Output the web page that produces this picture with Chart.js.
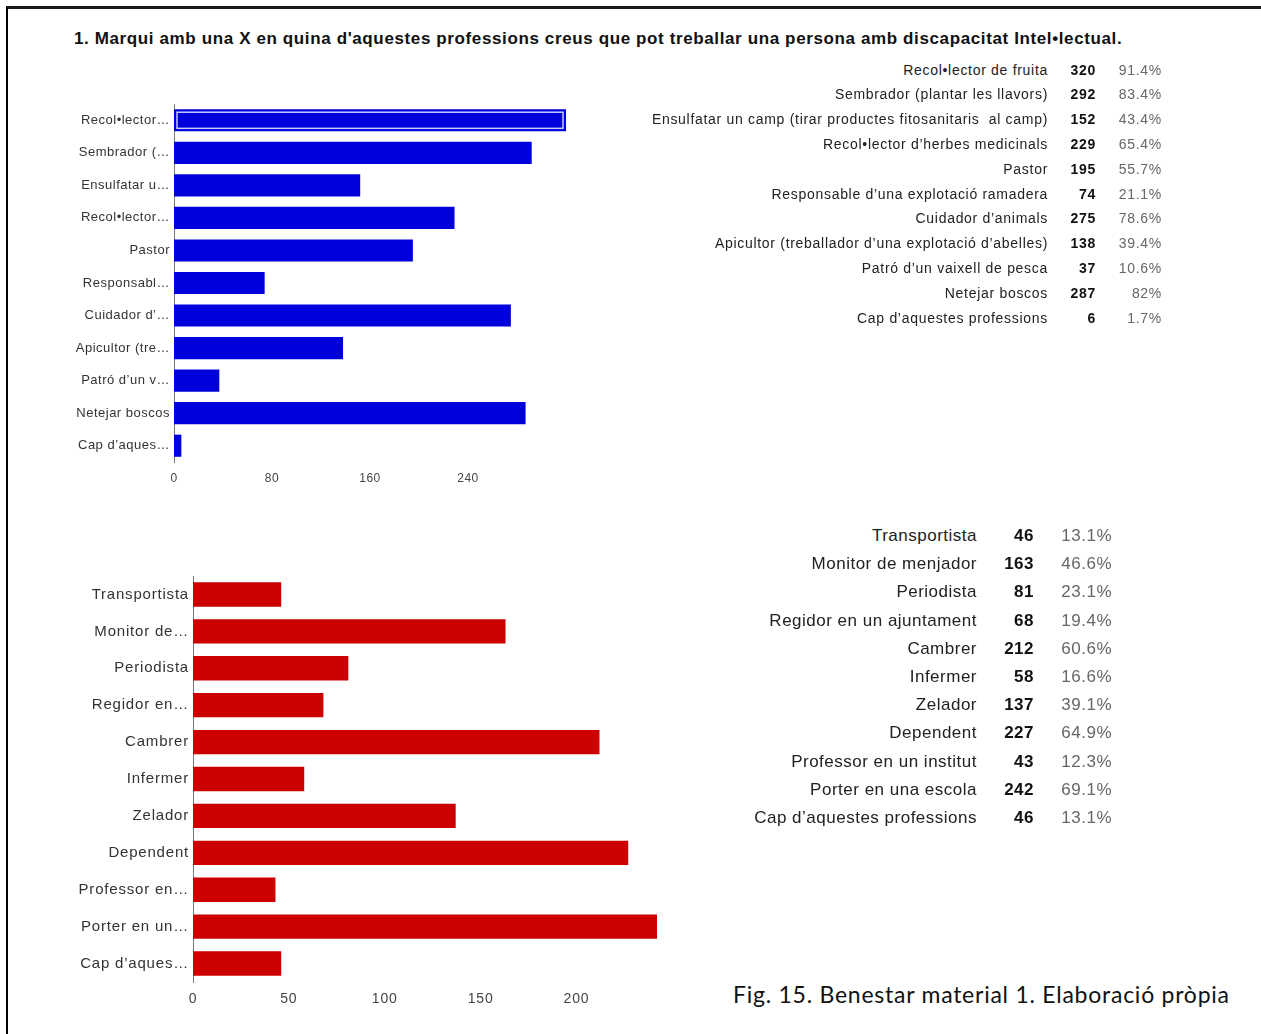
<!DOCTYPE html>
<html>
<head>
<meta charset="utf-8">
<script src="https://cdn.jsdelivr.net/npm/chart.js@4.4.1/dist/chart.umd.min.js"></script>
<style>
  body {
    margin: 0;
    background: #fff;
    width: 1261px;
    height: 1034px;
    position: relative;
    overflow: hidden;
    font-family: Arial, "Liberation Sans", sans-serif;
  }
  .frame {
    position: absolute;
    left: 6px;
    top: 6px;
    right: -10px;
    bottom: -10px;
    border-top: 3px solid #1a1a1a;
    border-left: 2px solid #000;
  }
  .title {
    position: absolute;
    left: 74px;
    top: 29px;
    font-weight: bold;
    font-size: 17px;
    letter-spacing: 0.62px;
    color: #111;
    white-space: nowrap;
  }
  canvas { position: absolute; }
  .cell {
    position: absolute;
    left: 0;
    text-align: right;
    white-space: pre;
  }
  .cell.val { font-weight: bold; color: #111; }
  .cell.pct { color: #666; }
  .caption {
    position: absolute;
    left: 733px;
    top: 980px;
    font-family: Lato, "Open Sans", sans-serif;
    font-size: 23px;
    letter-spacing: 0.75px;
    color: #111;
    white-space: nowrap;
  }
</style>
</head>
<body>
<div class="frame"></div>
<div class="title">1. Marqui amb una X en quina d'aquestes professions creus que pot treballar una persona amb discapacitat Intel•lectual.</div>

<canvas id="topChart" width="506" height="388" style="left:60px; top:104px; width:506px; height:388px;"></canvas>
<canvas id="bottomChart" width="597" height="436" style="left:60px; top:576px; width:597px; height:436px;"></canvas>
<div id="tables"></div>

<div class="caption">Fig. 15. Benestar material 1. Elaboració pròpia</div>

<script>
// Rural professions
const topCategories = [
    'Recol•lector de fruita',
    'Sembrador (plantar les llavors)',
    'Ensulfatar un camp (tirar productes fitosanitaris  al camp)',
    'Recol•lector d’herbes medicinals',
    'Pastor',
    'Responsable d’una explotació ramadera',
    'Cuidador d’animals',
    'Apicultor (treballador d’una explotació d’abelles)',
    'Patró d’un vaixell de pesca',
    'Netejar boscos',
    'Cap d’aquestes professions'
];
const topAxisLabels = [
    'Recol•lector…', 'Sembrador (…', 'Ensulfatar u…', 'Recol•lector…', 'Pastor',
    'Responsabl…', 'Cuidador d’…', 'Apicultor (tre…', 'Patró d’un v…', 'Netejar boscos', 'Cap d’aques…'
];
const topCounts = [320, 292, 152, 229, 195, 74, 275, 138, 37, 287, 6];
const topPercents = ['91.4%', '83.4%', '43.4%', '65.4%', '55.7%', '21.1%', '78.6%', '39.4%', '10.6%', '82%', '1.7%'];
const topTicks = [0, 80, 160, 240];

// Urban professions
const bottomCategories = [
    'Transportista',
    'Monitor de menjador',
    'Periodista',
    'Regidor en un ajuntament',
    'Cambrer',
    'Infermer',
    'Zelador',
    'Dependent',
    'Professor en un institut',
    'Porter en una escola',
    'Cap d’aquestes professions'
];
const bottomAxisLabels = [
    'Transportista', 'Monitor de…', 'Periodista', 'Regidor en…', 'Cambrer', 'Infermer',
    'Zelador', 'Dependent', 'Professor en…', 'Porter en un…', 'Cap d’aques…'
];
const bottomCounts = [46, 163, 81, 68, 212, 58, 137, 227, 43, 242, 46];
const bottomPercents = ['13.1%', '46.6%', '23.1%', '19.4%', '60.6%', '16.6%', '39.1%', '64.9%', '12.3%', '69.1%', '13.1%'];
const bottomTicks = [0, 50, 100, 150, 200];

// Light inner outline on the selected bar
const selectedBarOutline = {
    id: 'selectedBarOutline',
    afterDatasetsDraw(chart, args, opts) {
        if (opts.index == null) return;
        const bar = chart.getDatasetMeta(0).data[opts.index];
        if (!bar) return;
        const { x, y, base, height } = bar.getProps(['x', 'y', 'base', 'height'], true);
        const ctx = chart.ctx;
        ctx.save();
        ctx.strokeStyle = opts.color;
        ctx.lineWidth = 1.5;
        ctx.strokeRect(base + 3, y - height / 2 + 3, x - base - 6, height - 6);
        ctx.restore();
    }
};

// Wider tracking for the axis labels
const letterSpacing = {
    id: 'letterSpacing',
    beforeDraw(chart, args, opts) {
        chart.ctx.letterSpacing = (opts.value || 0) + 'px';
    }
};

function makeBarChart(id, labels, values, color, cfg) {
    const canvas = document.getElementById(id);
    return new Chart(canvas.getContext('2d'), {
        type: 'bar',
        data: {
            labels: labels,
            datasets: [{
                data: values,
                backgroundColor: color,
                borderWidth: 0,
                categoryPercentage: 1,
                barPercentage: cfg.barPercentage
            }]
        },
        plugins: [selectedBarOutline, letterSpacing],
        options: {
            indexAxis: 'y',
            responsive: false,
            animation: false,
            layout: { padding: 0 },
            plugins: {
                legend: { display: false },
                tooltip: { enabled: false },
                selectedBarOutline: cfg.outline || {},
                letterSpacing: { value: cfg.tracking }
            },
            scales: {
                x: {
                    min: 0,
                    max: cfg.max,
                    grid: { display: false, drawTicks: false },
                    border: { display: false },
                    afterBuildTicks: scale => {
                        scale.ticks = cfg.ticks.map(v => ({ value: v }));
                    },
                    afterFit: scale => { scale.height = 30; },
                    ticks: {
                        padding: cfg.tickPad,
                        color: '#444',
                        font: { family: 'Arial, "Liberation Sans", sans-serif', size: cfg.xFont }
                    }
                },
                y: {
                    grid: { display: false, drawTicks: false },
                    border: { display: true, color: '#777', width: 1 },
                    afterFit: scale => {
                        scale.width = cfg.yWidth;
                        scale.paddingTop = 0;
                        scale.paddingBottom = 0;
                    },
                    ticks: {
                        padding: 4,
                        color: '#333',
                        autoSkip: false,
                        font: { family: 'Arial, "Liberation Sans", sans-serif', size: cfg.yFont }
                    }
                }
            }
        }
    });
}

makeBarChart('topChart', topAxisLabels, topCounts, '#0000DC', {
    max: 320, ticks: topTicks, barPercentage: 0.68, yWidth: 114,
    xFont: 12, yFont: 13, tickPad: 9, tracking: 0.5,
    outline: { index: 0, color: '#c8c8ff' }
});

makeBarChart('bottomChart', bottomAxisLabels, bottomCounts, '#CC0000', {
    max: 242, ticks: bottomTicks, barPercentage: 0.66, yWidth: 133,
    xFont: 14, yFont: 15, tickPad: 9, tracking: 0.8
});

// Count / percentage tables beside each chart
function buildTable(cats, counts, pcts, t) {
    const host = document.getElementById('tables');
    cats.forEach((name, i) => {
        const top = t.firstY + i * t.step - t.step / 2;
        [[name, t.labelRight, ''], [counts[i], t.valRight, 'val'], [pcts[i], t.pctRight, 'pct']]
            .forEach(([text, right, cls]) => {
                const d = document.createElement('div');
                d.className = 'cell ' + cls;
                d.textContent = text;
                d.style.top = top + 'px';
                d.style.width = right + 'px';
                d.style.height = t.step + 'px';
                d.style.lineHeight = t.step + 'px';
                d.style.fontSize = t.font + 'px';
                d.style.letterSpacing = t.tracking + 'px';
                if (!cls) d.style.color = '#222';
                host.appendChild(d);
            });
    });
}

buildTable(topCategories, topCounts, topPercents,
    { firstY: 70, step: 24.8, labelRight: 1048, valRight: 1096, pctRight: 1162, font: 14, tracking: 0.7 });
buildTable(bottomCategories, bottomCounts, bottomPercents,
    { firstY: 536, step: 28.2, labelRight: 977, valRight: 1034, pctRight: 1112, font: 17, tracking: 0.5 });
</script>
</body>
</html>
